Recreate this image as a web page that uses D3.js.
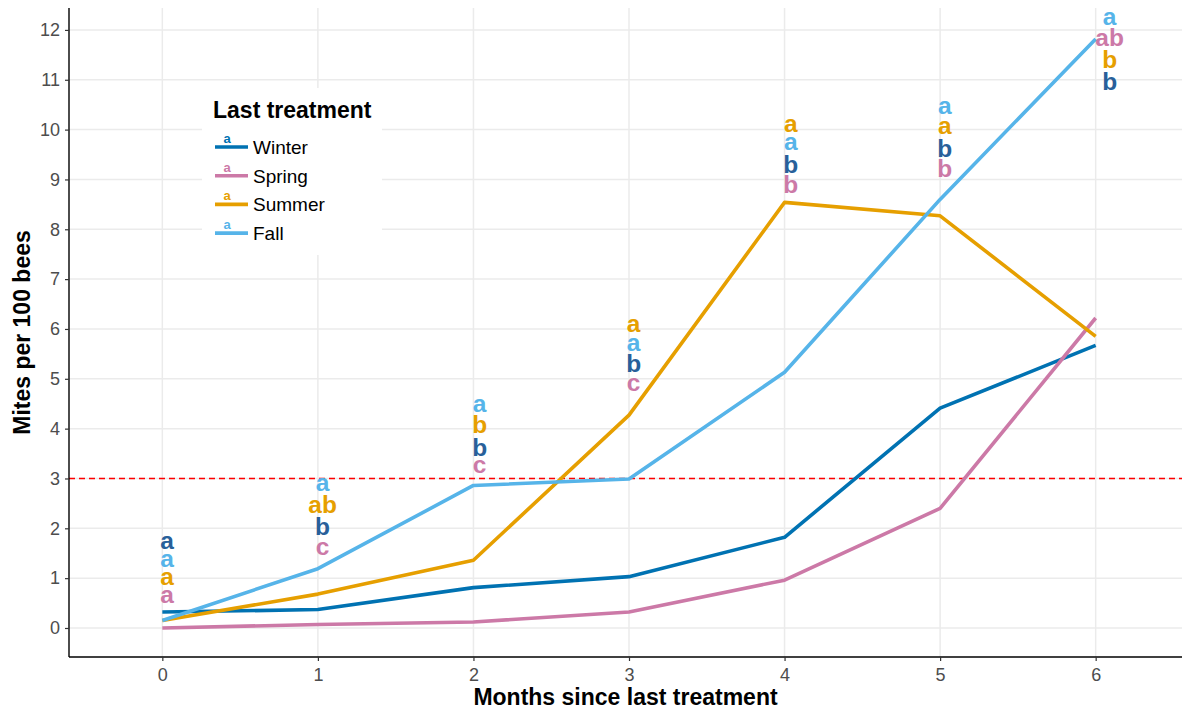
<!DOCTYPE html>
<html><head><meta charset="utf-8">
<script src="https://cdn.jsdelivr.net/npm/d3@7"></script>
<style>body{margin:0;background:#fff}svg{display:block}text{font-family:"Liberation Sans",Arial,sans-serif}</style>
</head><body><svg id="c" width="1182" height="709"></svg>
<script>
const months = [0,1,2,3,4,5,6];
const seasons = ["Winter","Spring","Summer","Fall"];
const winter = [0.32,0.37,0.81,1.03,1.82,4.41,5.67];
const spring = [0.00,0.07,0.12,0.32,0.96,2.40,6.22];
const summer = [0.15,0.68,1.36,4.27,8.54,8.27,5.85];
const fall   = [0.15,1.19,2.86,2.99,5.13,8.60,11.82];
const winterLetters = ["a","b","b","b","b","b","b"];
const springLetters = ["a","c","c","c","b","b","ab"];
const summerLetters = ["a","ab","b","a","a","a","b"];
const fallLetters   = ["a","a","a","a","a","a","a"];
const winterLetterY = [1.59,1.87,3.45,5.14,9.13,9.45,10.80];
const springLetterY = [0.50,1.46,3.11,4.76,8.73,9.05,11.68];
const summerLetterY = [0.86,2.31,3.91,5.94,9.95,9.91,11.24];
const fallLetterY   = [1.22,2.75,4.33,5.56,9.59,10.32,12.10];
const letterX = [0.03,1.03,2.04,3.03,4.04,5.03,6.09];
const xTicks = [0,1,2,3,4,5,6];
const yTicks = [0,1,2,3,4,5,6,7,8,9,10,11,12];
const threshold = 3;

const lineColors = {Winter:"#0072B2",Spring:"#CC79A7",Summer:"#E69F00",Fall:"#56B4E9"};
const letterColors = {Winter:"#28609a",Spring:"#CC79A7",Summer:"#E69F00",Fall:"#56B4E9"};
const values = {Winter:winter,Spring:spring,Summer:summer,Fall:fall};
const letters = {Winter:winterLetters,Spring:springLetters,Summer:summerLetters,Fall:fallLetters};
const letterY = {Winter:winterLetterY,Spring:springLetterY,Summer:summerLetterY,Fall:fallLetterY};

const L=69,R=1189,T=8,B=657;
const x = d3.scaleLinear().domain([-0.6,6.6]).range([L,R]);
const y = d3.scaleLinear().domain([-0.582,12.44]).range([B,T]);
const svg = d3.select("#c");

// grid
const g = svg.append("g");
g.selectAll(".gy").data(yTicks).join("line").attr("x1",L).attr("x2",R)
 .attr("y1",d=>y(d)).attr("y2",d=>y(d)).attr("stroke","#ebebeb").attr("stroke-width",1.5);
g.selectAll(".gx").data(xTicks).join("line").attr("y1",T).attr("y2",B)
 .attr("x1",d=>x(d)).attr("x2",d=>x(d)).attr("stroke","#ebebeb").attr("stroke-width",1.5);

// threshold
svg.append("line").attr("x1",L).attr("x2",R).attr("y1",y(threshold)).attr("y2",y(threshold))
 .attr("stroke","#ff0000").attr("stroke-width",1.4).attr("stroke-dasharray","6,4");

// lines
const line = d3.line().x((d,i)=>x(months[i])).y(d=>y(d));
seasons.forEach(s=>{
  svg.append("path").datum(values[s]).attr("d",line).attr("fill","none")
   .attr("stroke",lineColors[s]).attr("stroke-width",3.6).attr("stroke-linejoin","round");
});

// letters
seasons.forEach(s=>{
  svg.append("g").selectAll("text").data(letters[s]).join("text")
   .attr("x",(d,i)=>x(letterX[i])).attr("y",(d,i)=>y(letterY[s][i]))
   .attr("text-anchor","middle").attr("font-size",24.5).attr("font-weight","bold")
   .attr("fill",letterColors[s]).text(d=>d);
});

// axes
const xa = svg.append("g").attr("transform",`translate(0,${B})`)
 .call(d3.axisBottom(x).tickValues(xTicks).tickSize(4).tickPadding(7).tickFormat(d3.format("d")));
const ya = svg.append("g").attr("transform",`translate(${L},0)`)
 .call(d3.axisLeft(y).tickValues(yTicks).tickSize(4).tickPadding(5).tickFormat(d3.format("d")));
[xa,ya].forEach(a=>{
  a.select(".domain").attr("stroke","#000").attr("stroke-width",1.4);
  a.selectAll(".tick line").attr("stroke","#333").attr("stroke-width",1.2);
  a.selectAll(".tick text").attr("fill","#4d4d4d").attr("font-size",18).attr("font-family","Liberation Sans, Arial, sans-serif");
});
xa.select(".domain").attr("d",`M${L},0H1182`);
ya.select(".domain").attr("d",`M0,${T}V${B}`);

svg.append("text").attr("x",(L+1182)/2).attr("y",705).attr("text-anchor","middle")
 .attr("font-size",23).attr("font-weight","bold").text("Months since last treatment");
svg.append("text").attr("transform",`translate(30,${(T+B)/2}) rotate(-90)`).attr("text-anchor","middle")
 .attr("font-size",23).attr("font-weight","bold").text("Mites per 100 bees");

// legend
const lg = svg.append("g");
lg.append("rect").attr("x",202).attr("y",88).attr("width",180).attr("height",167).attr("fill","#fff");
lg.append("text").attr("x",213).attr("y",118).attr("font-size",23).attr("font-weight","bold").text("Last treatment");
seasons.forEach((s,i)=>{
  const cy = 147 + i*28.7;
  lg.append("line").attr("x1",215).attr("x2",248).attr("y1",cy).attr("y2",cy)
   .attr("stroke",lineColors[s]).attr("stroke-width",3.6);
  lg.append("text").attr("x",227).attr("y",cy-4).attr("text-anchor","middle")
   .attr("font-size",13).attr("font-weight","bold").attr("fill",lineColors[s]).text("a");
  lg.append("text").attr("x",253).attr("y",cy+7).attr("font-size",19).text(s);
});
</script></body></html>
